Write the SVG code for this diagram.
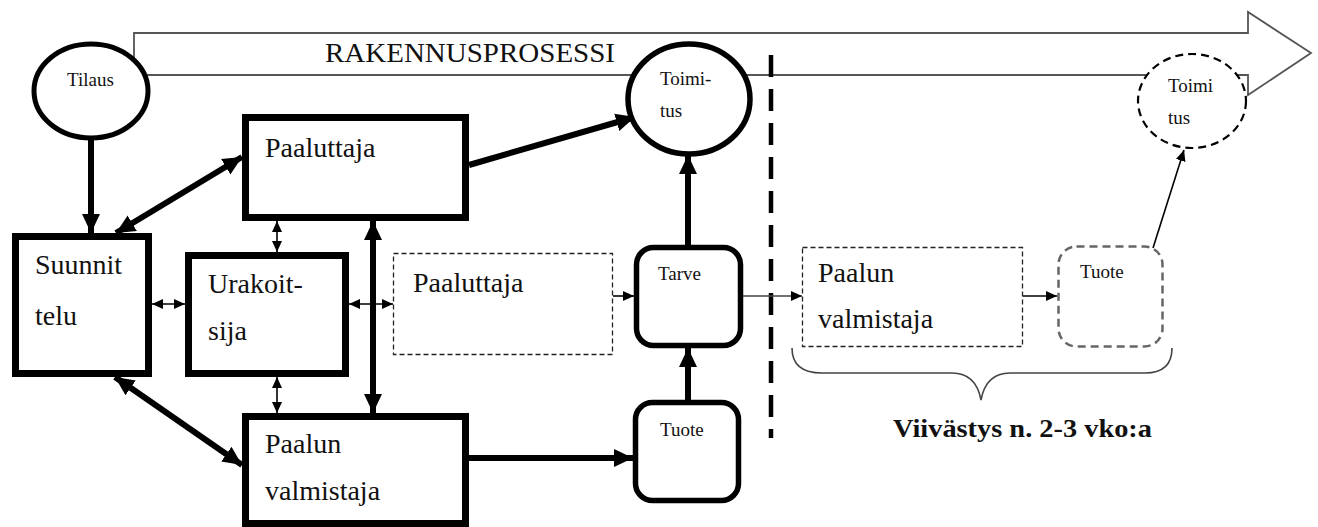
<svg xmlns="http://www.w3.org/2000/svg" width="1318" height="527" viewBox="0 0 1318 527">
  <style>
    .lbl { font-family: "Liberation Serif", "Times New Roman", serif; fill: #111; }
    .big { font-size: 28px; }
    .small { font-size: 19px; }
    .box { fill: #fff; stroke: #000; stroke-width: 7; }
    .rbox { fill: #fff; stroke: #000; stroke-width: 5.5; }
    .dbox { fill: #fff; stroke: #222; stroke-width: 1.3; stroke-dasharray: 5 3; }
    .thick { stroke: #000; stroke-width: 6; fill: none; }
    .thin { stroke: #000; stroke-width: 1.6; fill: none; }
  </style>
  <defs>
    <marker id="headBig" markerUnits="userSpaceOnUse" markerWidth="20" markerHeight="20" viewBox="0 0 20 20" refX="19" refY="10" orient="auto-start-reverse">
      <path d="M0,1 L19,10 L0,19 z" fill="#000"/>
    </marker>
    <marker id="headSmall" markerUnits="userSpaceOnUse" markerWidth="12" markerHeight="12" viewBox="0 0 12 12" refX="11" refY="6" orient="auto-start-reverse">
      <path d="M0,1 L11,6 L0,11 z" fill="#000"/>
    </marker>
  </defs>

  <!-- process arrow across the top -->
  <g id="process-arrow">
    <polygon points="134,33 1248,33 1248,12 1311,53 1248,95 1248,75 134,75" fill="#fff" stroke="#555" stroke-width="1.8"/>
    <text class="lbl" x="325" y="62" font-size="27" textLength="290" lengthAdjust="spacingAndGlyphs">RAKENNUSPROSESSI</text>
  </g>

  <!-- phase divider -->
  <line x1="771" y1="55" x2="771" y2="438" stroke="#000" stroke-width="4.5" stroke-dasharray="22 12"/>

  <!-- connectors -->
  <g id="connectors">
    <line class="thick" x1="91" y1="140" x2="91" y2="233" marker-end="url(#headBig)"/>
    <line class="thick" x1="116" y1="233" x2="242" y2="157" marker-start="url(#headBig)" marker-end="url(#headBig)"/>
    <line class="thick" x1="115" y1="377" x2="242" y2="465" marker-start="url(#headBig)" marker-end="url(#headBig)"/>
    <line class="thick" x1="373" y1="221" x2="373" y2="413" marker-start="url(#headBig)" marker-end="url(#headBig)"/>
    <line class="thick" x1="469" y1="165" x2="635" y2="117" marker-end="url(#headBig)"/>
    <line class="thick" x1="688" y1="245" x2="688" y2="155" marker-end="url(#headBig)"/>
    <line class="thick" x1="688" y1="400" x2="688" y2="348" marker-end="url(#headBig)"/>
    <line class="thick" x1="469" y1="458" x2="633" y2="458" marker-end="url(#headBig)"/>
    <line class="thin" x1="152" y1="304" x2="185" y2="304" marker-start="url(#headSmall)" marker-end="url(#headSmall)"/>
    <line class="thin" x1="277" y1="221" x2="277" y2="252" marker-start="url(#headSmall)" marker-end="url(#headSmall)"/>
    <line class="thin" x1="277" y1="377" x2="277" y2="413" marker-start="url(#headSmall)" marker-end="url(#headSmall)"/>
    <line class="thin" x1="349" y1="304" x2="393" y2="304" marker-start="url(#headSmall)" marker-end="url(#headSmall)"/>
    <line class="thin" x1="613" y1="296" x2="634" y2="296" marker-end="url(#headSmall)"/>
    <line x1="743" y1="296" x2="802" y2="296" stroke="#444" stroke-width="1.6" marker-end="url(#headSmall)"/>
    <line class="thin" x1="1023" y1="296" x2="1057" y2="296" marker-end="url(#headSmall)"/>
    <line class="thin" x1="1153" y1="248" x2="1184" y2="150" marker-end="url(#headSmall)"/>
  </g>

  <g id="tilaus">
    <ellipse cx="91" cy="91" rx="57" ry="47" fill="#fff" stroke="#000" stroke-width="5"/>
    <text class="lbl small" x="67" y="86">Tilaus</text>
  </g>

  <g id="toimitus">
    <ellipse cx="689" cy="99" rx="61" ry="55" fill="#fff" stroke="#000" stroke-width="5.5"/>
    <text class="lbl small" x="660" y="85">Toimi-</text>
    <text class="lbl small" x="660" y="117">tus</text>
  </g>

  <g id="paaluttaja">
    <rect class="box" x="245.5" y="117.5" width="220" height="100"/>
    <text class="lbl big" x="265" y="157">Paaluttaja</text>
  </g>

  <g id="suunnittelu">
    <rect class="box" x="15.5" y="236.5" width="133" height="137"/>
    <text class="lbl big" x="35" y="274">Suunnit</text>
    <text class="lbl big" x="35" y="325">telu</text>
  </g>

  <g id="urakoitsija">
    <rect class="box" x="188.5" y="255.5" width="157" height="118"/>
    <text class="lbl big" x="208" y="293">Urakoit-</text>
    <text class="lbl big" x="208" y="340">sija</text>
  </g>

  <g id="paalun-valmistaja">
    <rect class="box" x="245.5" y="416.5" width="220" height="107"/>
    <text class="lbl big" x="265" y="453">Paalun</text>
    <text class="lbl big" x="265" y="500">valmistaja</text>
  </g>

  <g id="paaluttaja-alt">
    <rect class="dbox" x="393.5" y="253.5" width="219" height="101"/>
    <text class="lbl big" x="413" y="292">Paaluttaja</text>
  </g>

  <g id="tarve">
    <rect class="rbox" x="636.5" y="247.5" width="104" height="98" rx="17"/>
    <text class="lbl small" x="658" y="280">Tarve</text>
  </g>

  <g id="tuote">
    <rect class="rbox" x="635.5" y="402.5" width="103" height="98" rx="17"/>
    <text class="lbl small" x="660" y="436">Tuote</text>
  </g>

  <g id="paalun-valmistaja-alt">
    <rect class="dbox" x="802.5" y="247.5" width="220" height="99"/>
    <text class="lbl big" x="818" y="282">Paalun</text>
    <text class="lbl big" x="818" y="328">valmistaja</text>
  </g>

  <g id="tuote-alt">
    <rect x="1058.5" y="246.5" width="104" height="100" rx="18" fill="#fff" stroke="#666" stroke-width="2.5" stroke-dasharray="8 5"/>
    <text class="lbl small" x="1080" y="278">Tuote</text>
  </g>

  <g id="toimitus-alt">
    <ellipse cx="1192" cy="101" rx="54" ry="47" fill="#fff" stroke="#000" stroke-width="2.2" stroke-dasharray="8 5"/>
    <text class="lbl small" x="1168" y="92">Toimi</text>
    <text class="lbl small" x="1168" y="124">tus</text>
  </g>

  <!-- delay brace and caption -->
  <g id="viivastys">
    <path d="M792,348 Q792,373 822,373 L952,373 Q976,373 981,400 Q986,373 1010,373 L1145,373 Q1172,373 1172,348" fill="none" stroke="#444" stroke-width="1.6"/>
    <text class="lbl" x="893" y="437" font-size="25" font-weight="bold" textLength="259" lengthAdjust="spacingAndGlyphs">Viivästys n. 2-3 vko:a</text>
  </g>
</svg>
